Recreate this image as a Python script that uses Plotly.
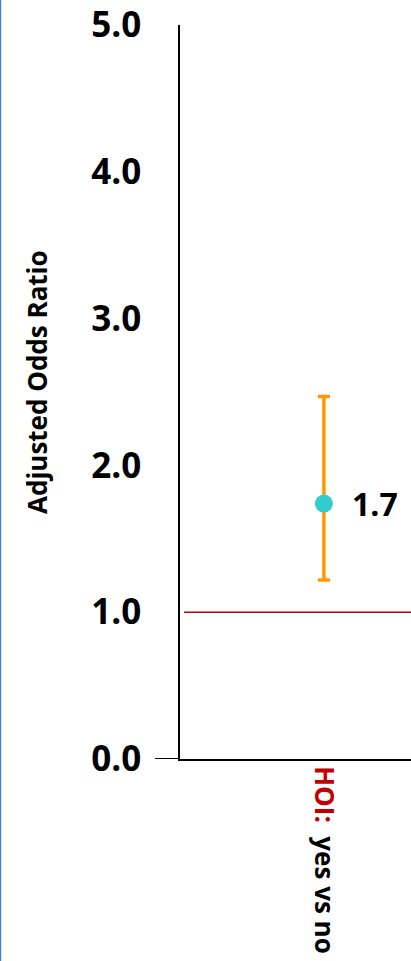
import plotly.graph_objects as go

# Adjusted odds ratio with 95% confidence interval
categories = ["HOI"]
category_labels = ["<span style='color:#C00000'>HOI:</span>  yes vs no"]
odds_ratio = [1.74]
ci_lower = [1.22]
ci_upper = [2.47]
reference_value = 1.0
y_ticks = [0, 1, 2, 3, 4, 5]

FONT = "Open Sans"
L, R, T, B = 180, 0, 25, 202
W, H = 411, 961
plot_w = W - L - R
plot_h = H - T - B

def px_to_paper_x(px):
    return (px - L) / plot_w

def px_to_paper_y(py):
    return (H - B - py) / plot_h

fig = go.Figure()

fig.add_trace(go.Scatter(
    x=[0] * len(odds_ratio),
    y=odds_ratio,
    mode="markers",
    marker=dict(color="#33CCCC", size=18, line=dict(width=0)),
    error_y=dict(
        type="data",
        symmetric=False,
        array=[u - v for u, v in zip(ci_upper, odds_ratio)],
        arrayminus=[v - l for v, l in zip(odds_ratio, ci_lower)],
        color="#FF9900",
        thickness=3.5,
        width=6,
    ),
    cliponaxis=False,
    showlegend=False,
))

# Value labels next to the point estimates
for i, v in enumerate(odds_ratio):
    fig.add_annotation(x=i, y=v, xref="x", yref="y", text=f"{v:.1f}",
                       showarrow=False, xanchor="left", yanchor="middle",
                       xshift=26,
                       font=dict(family=FONT, size=32, color="black", weight="bold"))

# Reference line at OR = 1
fig.add_shape(type="line", xref="paper", yref="y",
              x0=px_to_paper_x(184), x1=1, y0=reference_value, y1=reference_value,
              line=dict(color="#C00000", width=1.5))

# Axis baseline extending left of the vertical axis
fig.add_shape(type="line", xref="paper", yref="y",
              x0=px_to_paper_x(155), x1=0, y0=0, y1=0,
              line=dict(color="black", width=2))

# Left border of the slide panel
fig.add_shape(type="line", xref="paper", yref="paper",
              x0=px_to_paper_x(0.5), x1=px_to_paper_x(0.5),
              y0=px_to_paper_y(H), y1=px_to_paper_y(0),
              line=dict(color="#4A7EC0", width=1.5))

# Y axis title
fig.add_annotation(x=px_to_paper_x(37), y=px_to_paper_y(382), xref="paper", yref="paper",
                   text="Adjusted Odds Ratio", textangle=-90, showarrow=False,
                   xanchor="center", yanchor="middle",
                   font=dict(family=FONT, size=26, color="black", weight="bold"))

fig.update_layout(
    width=W, height=H,
    margin=dict(l=L, r=R, t=T, b=B, pad=0, autoexpand=False),
    paper_bgcolor="white",
    plot_bgcolor="white",
    font=dict(family=FONT, color="black"),
    xaxis=dict(
        range=[-0.623, 0.377],
        tickmode="array",
        tickvals=[0],
        ticktext=category_labels,
        tickangle=90,
        tickfont=dict(family=FONT, size=26, color="black", weight="bold"),
        automargin=False,
        showgrid=False,
        zeroline=False,
        showline=True,
        linecolor="black",
        linewidth=2,
        ticks="",
    ),
    yaxis=dict(
        range=[0, 5],
        tickvals=y_ticks,
        tickformat=".1f",
        tickfont=dict(family=FONT, size=35, color="black", weight="bold"),
        ticklabelstandoff=30,
        automargin=False,
        showgrid=False,
        zeroline=False,
        showline=True,
        linecolor="black",
        linewidth=1.5,
        ticks="",
    ),
)

fig.write_html("out.html")
